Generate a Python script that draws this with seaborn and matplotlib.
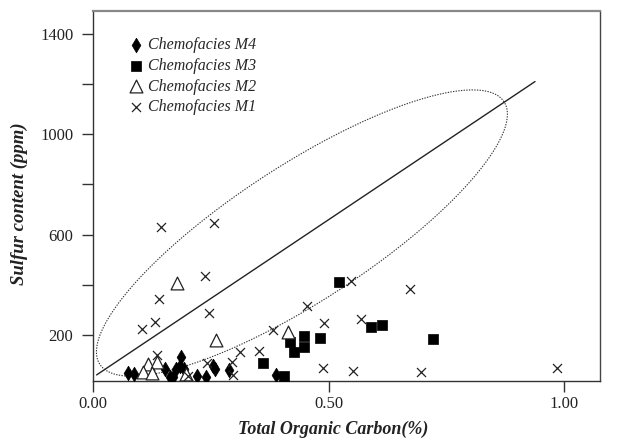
import numpy as np
import pandas as pd
import matplotlib
matplotlib.use("Agg")
import matplotlib.pyplot as plt
import seaborn as sns

# ---- data ----
m4_toc = [0.073, 0.087, 0.153, 0.163, 0.170, 0.176, 0.186, 0.184, 0.192, 0.221, 0.240, 0.254, 0.259, 0.289, 0.387]
m4_s   = [47, 43, 64, 34, 34, 64, 113, 78, 64, 38, 34, 78, 63, 60, 40]

m3_toc = [0.521, 0.589, 0.614, 0.721, 0.447, 0.481, 0.447, 0.417, 0.427, 0.360, 0.406]
m3_s   = [412, 233, 240, 184, 196, 189, 151, 171, 131, 87, 37]

m2_toc = [0.177, 0.260, 0.414, 0.117, 0.136, 0.106, 0.124, 0.197]
m2_s   = [406, 180, 210, 83, 94, 54, 47, 43]

m1_toc = [0.143, 0.257, 0.238, 0.140, 0.245, 0.131, 0.104, 0.454, 0.489, 0.381, 0.548, 0.672,
          0.569, 0.488, 0.552, 0.695, 0.984, 0.136, 0.241, 0.294, 0.311, 0.351, 0.296, 0.202]
m1_s   = [628, 645, 435, 342, 286, 250, 224, 317, 246, 219, 416, 383,
          262, 70, 58, 51, 70, 120, 87, 91, 133, 137, 41, 38]

labels = ["Chemofacies M4", "Chemofacies M3", "Chemofacies M2", "Chemofacies M1"]

line_x = [0.007, 0.938]
line_y = [41, 1209]

# ellipse: centre in data units, axes/angle in display pixels
ell_center = (0.443, 606)
ell_a_px, ell_b_px, ell_angle_deg = 241, 68, 33

x_ticks = [0.0, 0.5, 1.0]
x_ticklabels = ["0.00", "0.50", "1.00"]
y_major = [200, 600, 1000, 1400]
y_minor = [400, 800, 1200]

frames = []
for lab, xs, ys in zip(labels, [m4_toc, m3_toc, m2_toc, m1_toc], [m4_s, m3_s, m2_s, m1_s]):
    frames.append(pd.DataFrame({"toc": xs, "s": ys, "group": lab}))
df = pd.concat(frames, ignore_index=True)

sns.set_style("ticks")
plt.rcParams["font.family"] = ["Liberation Serif", "DejaVu Serif"]

fig = plt.figure(figsize=(6.2, 4.41), dpi=100)
ax = fig.add_axes([93.3 / 620, 1 - 380.7 / 441, (600 - 93.3) / 620, (380.7 - 11) / 441])
ax.set_xlim(0, 1.076)
ax.set_ylim(18, 1490)

styles = {
    "Chemofacies M4": dict(marker="d", s=55, color="black", edgecolor="black", linewidth=0.5),
    "Chemofacies M3": dict(marker="s", s=48, color="black", edgecolor="black", linewidth=0.5),
    "Chemofacies M2": dict(marker="^", s=85, facecolor="white", edgecolor="#222222", linewidth=0.9),
    "Chemofacies M1": dict(marker="x", s=42, color="#222222", linewidth=0.9),
}
for lab in labels:
    sub = df[df["group"] == lab]
    sns.scatterplot(data=sub, x="toc", y="s", ax=ax, label=lab, zorder=3, **styles[lab])

# straight reference line
ax.plot(line_x, line_y, color="#222222", lw=1.0, zorder=2)

# dotted ellipse
fig.canvas.draw()
cx, cy = ax.transData.transform(ell_center)
t = np.linspace(0, 2 * np.pi, 400)
th = np.deg2rad(ell_angle_deg)
px = cx + ell_a_px * np.cos(t) * np.cos(th) - ell_b_px * np.sin(t) * np.sin(th)
py = cy + ell_a_px * np.cos(t) * np.sin(th) + ell_b_px * np.sin(t) * np.cos(th)
pts = ax.transData.inverted().transform(np.column_stack([px, py]))
ax.plot(pts[:, 0], pts[:, 1], color="#333333", lw=0.8, ls=(0, (1.2, 1.2)), zorder=1)

ax.set_xticks(x_ticks)
ax.set_xticklabels(x_ticklabels)
ax.set_yticks(y_major)
ax.set_yticks(y_minor, minor=True)
ax.tick_params(axis="both", which="both", direction="out", length=7.8, width=1.0,
               color="#333333", labelsize=12, labelcolor="#222222")
ax.tick_params(axis="x", pad=3.5)
ax.tick_params(axis="y", pad=6.5)

for side in ["left", "bottom"]:
    ax.spines[side].set_color("#333333")
    ax.spines[side].set_linewidth(1.0)
ax.spines["top"].set_color("#888888")
ax.spines["top"].set_linewidth(1.6)
ax.spines["right"].set_color("#444444")
ax.spines["right"].set_linewidth(1.0)

ax.set_xlabel("Total Organic Carbon(%)", fontsize=13, fontstyle="italic", fontweight="bold",
              color="#222222")
ax.set_ylabel("Sulfur content (ppm)", fontsize=13.5, fontstyle="italic", fontweight="bold",
              color="#222222")
ax.xaxis.set_label_coords(0.473, -0.108)
ax.yaxis.set_label_coords(-0.128, 0.48)

leg = ax.legend(loc="upper left", bbox_to_anchor=(0.049, 0.951), frameon=False,
                prop=dict(family="Liberation Serif", style="italic", size=11.5),
                handletextpad=0.15, labelspacing=0.3, borderpad=0, handlelength=1.2)

fig.savefig("out.png", dpi=100)
